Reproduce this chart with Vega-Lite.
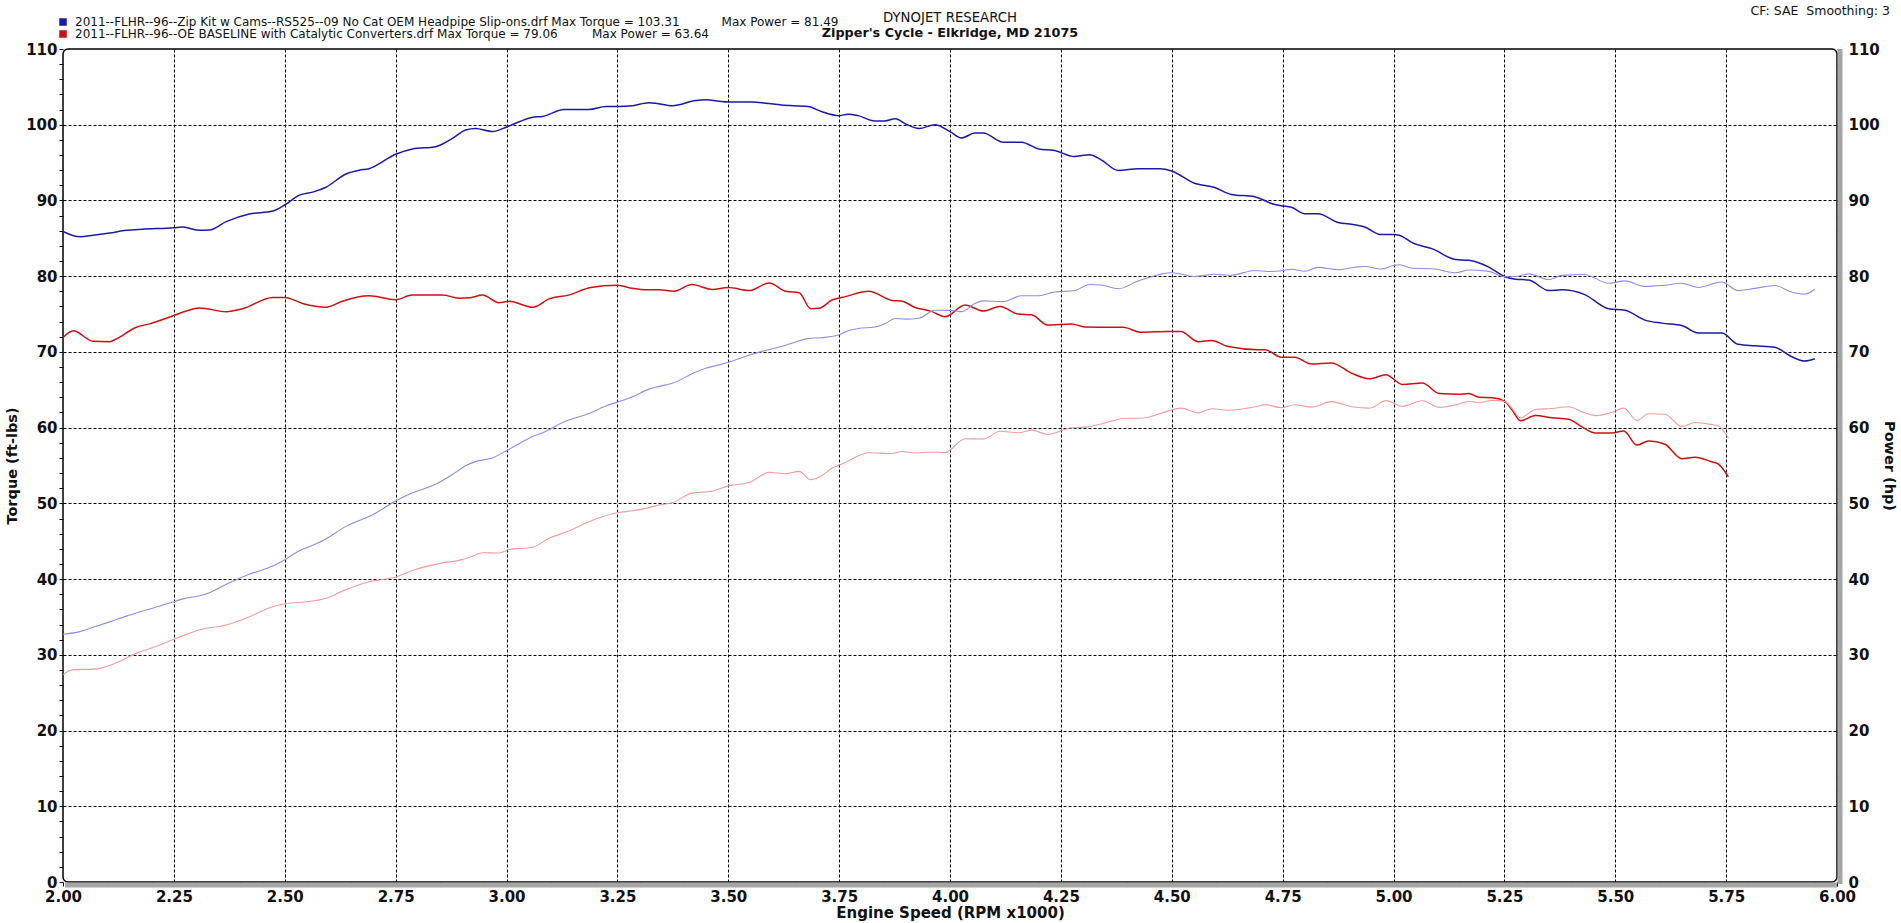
{
  "$schema": "https://vega.github.io/schema/vega-lite/v6.json",
  "width": 1774,
  "height": 833,
  "autosize": "none",
  "padding": {"left": 63, "top": 49, "right": 64, "bottom": 41},
  "background": "white",
  "config": {
    "font": "DejaVu Sans",
    "view": {"stroke": "black", "strokeWidth": 1.5, "cornerRadius": 5}
  },
  "title": {
    "text": "DYNOJET RESEARCH",
    "subtitle": "Zipper's Cycle - Elkridge, MD 21075",
    "anchor": "middle",
    "frame": "group",
    "font": "DejaVu Sans",
    "fontSize": 13.3,
    "fontWeight": "normal",
    "color": "#111111",
    "subtitleFont": "DejaVu Sans",
    "subtitleFontSize": 12.8,
    "subtitleFontWeight": "bold",
    "subtitleColor": "#111111",
    "subtitlePadding": 3,
    "offset": -35
  },
  "datasets": {
    "runs": [
      {"run":"A","rpm":2.000,"tq":85.9,"hp":32.71},
      {"run":"A","rpm":2.038,"tq":85.2,"hp":33.06},
      {"run":"A","rpm":2.068,"tq":85.4,"hp":33.63},
      {"run":"A","rpm":2.105,"tq":85.7,"hp":34.35},
      {"run":"A","rpm":2.143,"tq":86.05,"hp":35.11},
      {"run":"A","rpm":2.180,"tq":86.2,"hp":35.78},
      {"run":"A","rpm":2.250,"tq":86.4,"hp":37.01},
      {"run":"A","rpm":2.270,"tq":86.5,"hp":37.39},
      {"run":"A","rpm":2.308,"tq":86.05,"hp":37.81},
      {"run":"A","rpm":2.330,"tq":86.1,"hp":38.20},
      {"run":"A","rpm":2.368,"tq":87.2,"hp":39.32},
      {"run":"A","rpm":2.420,"tq":88.2,"hp":40.64},
      {"run":"A","rpm":2.473,"tq":88.6,"hp":41.72},
      {"run":"A","rpm":2.500,"tq":89.4,"hp":42.56},
      {"run":"A","rpm":2.533,"tq":90.7,"hp":43.74},
      {"run":"A","rpm":2.563,"tq":91.1,"hp":44.46},
      {"run":"A","rpm":2.593,"tq":91.75,"hp":45.30},
      {"run":"A","rpm":2.638,"tq":93.5,"hp":46.96},
      {"run":"A","rpm":2.668,"tq":94.0,"hp":47.75},
      {"run":"A","rpm":2.690,"tq":94.2,"hp":48.25},
      {"run":"A","rpm":2.750,"tq":96.1,"hp":50.32},
      {"run":"A","rpm":2.788,"tq":96.8,"hp":51.39},
      {"run":"A","rpm":2.840,"tq":97.1,"hp":52.51},
      {"run":"A","rpm":2.878,"tq":98.2,"hp":53.81},
      {"run":"A","rpm":2.908,"tq":99.3,"hp":54.98},
      {"run":"A","rpm":2.930,"tq":99.5,"hp":55.51},
      {"run":"A","rpm":2.968,"tq":99.1,"hp":56.00},
      {"run":"A","rpm":3.000,"tq":99.7,"hp":56.95},
      {"run":"A","rpm":3.029,"tq":100.4,"hp":57.90},
      {"run":"A","rpm":3.059,"tq":101.0,"hp":58.83},
      {"run":"A","rpm":3.081,"tq":101.1,"hp":59.31},
      {"run":"A","rpm":3.130,"tq":102.0,"hp":60.79},
      {"run":"A","rpm":3.186,"tq":102.0,"hp":61.88},
      {"run":"A","rpm":3.224,"tq":102.4,"hp":62.86},
      {"run":"A","rpm":3.250,"tq":102.4,"hp":63.37},
      {"run":"A","rpm":3.284,"tq":102.5,"hp":64.09},
      {"run":"A","rpm":3.320,"tq":102.9,"hp":65.05},
      {"run":"A","rpm":3.336,"tq":102.85,"hp":65.33},
      {"run":"A","rpm":3.374,"tq":102.5,"hp":65.85},
      {"run":"A","rpm":3.427,"tq":103.2,"hp":67.34},
      {"run":"A","rpm":3.449,"tq":103.3,"hp":67.84},
      {"run":"A","rpm":3.479,"tq":103.1,"hp":68.29},
      {"run":"A","rpm":3.500,"tq":103.0,"hp":68.64},
      {"run":"A","rpm":3.554,"tq":103.0,"hp":69.70},
      {"run":"A","rpm":3.584,"tq":102.85,"hp":70.19},
      {"run":"A","rpm":3.620,"tq":102.6,"hp":70.72},
      {"run":"A","rpm":3.680,"tq":102.4,"hp":71.75},
      {"run":"A","rpm":3.710,"tq":101.75,"hp":71.88},
      {"run":"A","rpm":3.750,"tq":101.2,"hp":72.26},
      {"run":"A","rpm":3.770,"tq":101.4,"hp":72.79},
      {"run":"A","rpm":3.793,"tq":101.2,"hp":73.09},
      {"run":"A","rpm":3.830,"tq":100.5,"hp":73.29},
      {"run":"A","rpm":3.853,"tq":100.5,"hp":73.73},
      {"run":"A","rpm":3.877,"tq":100.8,"hp":74.41},
      {"run":"A","rpm":3.900,"tq":100.1,"hp":74.33},
      {"run":"A","rpm":3.930,"tq":99.5,"hp":74.45},
      {"run":"A","rpm":3.966,"tq":100.0,"hp":75.51},
      {"run":"A","rpm":4.000,"tq":99.1,"hp":75.48},
      {"run":"A","rpm":4.026,"tq":98.25,"hp":75.32},
      {"run":"A","rpm":4.056,"tq":98.9,"hp":76.38},
      {"run":"A","rpm":4.075,"tq":98.9,"hp":76.74},
      {"run":"A","rpm":4.120,"tq":97.7,"hp":76.64},
      {"run":"A","rpm":4.161,"tq":97.7,"hp":77.41},
      {"run":"A","rpm":4.200,"tq":96.8,"hp":77.41},
      {"run":"A","rpm":4.236,"tq":96.6,"hp":77.91},
      {"run":"A","rpm":4.280,"tq":95.8,"hp":78.07},
      {"run":"A","rpm":4.315,"tq":96.05,"hp":78.91},
      {"run":"A","rpm":4.340,"tq":95.4,"hp":78.83},
      {"run":"A","rpm":4.380,"tq":93.95,"hp":78.35},
      {"run":"A","rpm":4.424,"tq":94.2,"hp":79.35},
      {"run":"A","rpm":4.473,"tq":94.2,"hp":80.23},
      {"run":"A","rpm":4.500,"tq":93.9,"hp":80.46},
      {"run":"A","rpm":4.550,"tq":92.3,"hp":79.96},
      {"run":"A","rpm":4.597,"tq":91.7,"hp":80.26},
      {"run":"A","rpm":4.634,"tq":90.8,"hp":80.12},
      {"run":"A","rpm":4.687,"tq":90.5,"hp":80.76},
      {"run":"A","rpm":4.725,"tq":89.6,"hp":80.61},
      {"run":"A","rpm":4.747,"tq":89.3,"hp":80.71},
      {"run":"A","rpm":4.770,"tq":89.1,"hp":80.92},
      {"run":"A","rpm":4.800,"tq":88.25,"hp":80.66},
      {"run":"A","rpm":4.830,"tq":88.25,"hp":81.16},
      {"run":"A","rpm":4.875,"tq":87.1,"hp":80.85},
      {"run":"A","rpm":4.912,"tq":86.8,"hp":81.18},
      {"run":"A","rpm":4.935,"tq":86.5,"hp":81.28},
      {"run":"A","rpm":4.972,"tq":85.5,"hp":80.94},
      {"run":"A","rpm":5.000,"tq":85.5,"hp":81.40},
      {"run":"A","rpm":5.013,"tq":85.4,"hp":81.51},
      {"run":"A","rpm":5.043,"tq":84.4,"hp":81.04},
      {"run":"A","rpm":5.088,"tq":83.6,"hp":80.99},
      {"run":"A","rpm":5.140,"tq":82.2,"hp":80.45},
      {"run":"A","rpm":5.170,"tq":82.1,"hp":80.82},
      {"run":"A","rpm":5.215,"tq":81.2,"hp":80.63},
      {"run":"A","rpm":5.250,"tq":79.95,"hp":79.92},
      {"run":"A","rpm":5.275,"tq":79.6,"hp":79.95},
      {"run":"A","rpm":5.305,"tq":79.5,"hp":80.30},
      {"run":"A","rpm":5.350,"tq":78.1,"hp":79.56},
      {"run":"A","rpm":5.380,"tq":78.2,"hp":80.11},
      {"run":"A","rpm":5.430,"tq":77.6,"hp":80.23},
      {"run":"A","rpm":5.485,"tq":75.7,"hp":79.06},
      {"run":"A","rpm":5.522,"tq":75.5,"hp":79.38},
      {"run":"A","rpm":5.567,"tq":74.2,"hp":78.65},
      {"run":"A","rpm":5.605,"tq":73.8,"hp":78.76},
      {"run":"A","rpm":5.650,"tq":73.5,"hp":79.07},
      {"run":"A","rpm":5.687,"tq":72.5,"hp":78.51},
      {"run":"A","rpm":5.740,"tq":72.5,"hp":79.24},
      {"run":"A","rpm":5.777,"tq":71.0,"hp":78.10},
      {"run":"A","rpm":5.815,"tq":70.8,"hp":78.39},
      {"run":"A","rpm":5.860,"tq":70.6,"hp":78.77},
      {"run":"A","rpm":5.897,"tq":69.4,"hp":77.92},
      {"run":"A","rpm":5.927,"tq":68.8,"hp":77.64},
      {"run":"A","rpm":5.950,"tq":69.1,"hp":78.28},
      {"run":"B","rpm":2.000,"tq":71.9,"hp":27.38},
      {"run":"B","rpm":2.023,"tq":72.8,"hp":28.04},
      {"run":"B","rpm":2.068,"tq":71.4,"hp":28.11},
      {"run":"B","rpm":2.105,"tq":71.35,"hp":28.60},
      {"run":"B","rpm":2.120,"tq":71.7,"hp":28.94},
      {"run":"B","rpm":2.165,"tq":73.25,"hp":30.19},
      {"run":"B","rpm":2.195,"tq":73.7,"hp":30.80},
      {"run":"B","rpm":2.250,"tq":74.8,"hp":32.05},
      {"run":"B","rpm":2.278,"tq":75.4,"hp":32.70},
      {"run":"B","rpm":2.308,"tq":75.8,"hp":33.31},
      {"run":"B","rpm":2.368,"tq":75.3,"hp":33.95},
      {"run":"B","rpm":2.405,"tq":75.7,"hp":34.66},
      {"run":"B","rpm":2.473,"tq":77.2,"hp":36.35},
      {"run":"B","rpm":2.500,"tq":77.2,"hp":36.75},
      {"run":"B","rpm":2.540,"tq":76.4,"hp":36.95},
      {"run":"B","rpm":2.593,"tq":75.9,"hp":37.47},
      {"run":"B","rpm":2.630,"tq":76.7,"hp":38.41},
      {"run":"B","rpm":2.690,"tq":77.4,"hp":39.64},
      {"run":"B","rpm":2.750,"tq":76.9,"hp":40.27},
      {"run":"B","rpm":2.788,"tq":77.5,"hp":41.14},
      {"run":"B","rpm":2.856,"tq":77.5,"hp":42.14},
      {"run":"B","rpm":2.893,"tq":77.1,"hp":42.47},
      {"run":"B","rpm":2.916,"tq":77.15,"hp":42.84},
      {"run":"B","rpm":2.946,"tq":77.5,"hp":43.47},
      {"run":"B","rpm":2.983,"tq":76.5,"hp":43.45},
      {"run":"B","rpm":3.006,"tq":76.7,"hp":43.90},
      {"run":"B","rpm":3.059,"tq":75.9,"hp":44.21},
      {"run":"B","rpm":3.096,"tq":77.0,"hp":45.39},
      {"run":"B","rpm":3.140,"tq":77.5,"hp":46.34},
      {"run":"B","rpm":3.190,"tq":78.5,"hp":47.68},
      {"run":"B","rpm":3.250,"tq":78.8,"hp":48.76},
      {"run":"B","rpm":3.284,"tq":78.4,"hp":49.02},
      {"run":"B","rpm":3.314,"tq":78.2,"hp":49.34},
      {"run":"B","rpm":3.344,"tq":78.2,"hp":49.79},
      {"run":"B","rpm":3.377,"tq":78.0,"hp":50.15},
      {"run":"B","rpm":3.418,"tq":78.9,"hp":51.35},
      {"run":"B","rpm":3.464,"tq":78.25,"hp":51.61},
      {"run":"B","rpm":3.500,"tq":78.5,"hp":52.31},
      {"run":"B","rpm":3.547,"tq":78.1,"hp":52.75},
      {"run":"B","rpm":3.592,"tq":79.1,"hp":54.10},
      {"run":"B","rpm":3.630,"tq":78.0,"hp":53.91},
      {"run":"B","rpm":3.660,"tq":77.8,"hp":54.22},
      {"run":"B","rpm":3.686,"tq":75.7,"hp":53.13},
      {"run":"B","rpm":3.705,"tq":75.75,"hp":53.44},
      {"run":"B","rpm":3.734,"tq":76.85,"hp":54.64},
      {"run":"B","rpm":3.764,"tq":77.3,"hp":55.40},
      {"run":"B","rpm":3.817,"tq":78.0,"hp":56.69},
      {"run":"B","rpm":3.869,"tq":76.8,"hp":56.58},
      {"run":"B","rpm":3.892,"tq":76.7,"hp":56.84},
      {"run":"B","rpm":3.920,"tq":75.9,"hp":56.65},
      {"run":"B","rpm":3.958,"tq":75.35,"hp":56.79},
      {"run":"B","rpm":3.989,"tq":74.65,"hp":56.70},
      {"run":"B","rpm":4.034,"tq":76.2,"hp":58.53},
      {"run":"B","rpm":4.075,"tq":75.4,"hp":58.50},
      {"run":"B","rpm":4.113,"tq":76.0,"hp":59.52},
      {"run":"B","rpm":4.154,"tq":75.0,"hp":59.32},
      {"run":"B","rpm":4.184,"tq":74.9,"hp":59.67},
      {"run":"B","rpm":4.220,"tq":73.55,"hp":59.10},
      {"run":"B","rpm":4.274,"tq":73.7,"hp":59.98},
      {"run":"B","rpm":4.304,"tq":73.3,"hp":60.07},
      {"run":"B","rpm":4.372,"tq":73.25,"hp":60.98},
      {"run":"B","rpm":4.390,"tq":73.25,"hp":61.23},
      {"run":"B","rpm":4.430,"tq":72.6,"hp":61.24},
      {"run":"B","rpm":4.490,"tq":72.7,"hp":62.15},
      {"run":"B","rpm":4.520,"tq":72.7,"hp":62.57},
      {"run":"B","rpm":4.560,"tq":71.35,"hp":61.95},
      {"run":"B","rpm":4.590,"tq":71.5,"hp":62.49},
      {"run":"B","rpm":4.627,"tq":70.7,"hp":62.29},
      {"run":"B","rpm":4.694,"tq":70.3,"hp":62.83},
      {"run":"B","rpm":4.710,"tq":70.3,"hp":63.04},
      {"run":"B","rpm":4.747,"tq":69.3,"hp":62.64},
      {"run":"B","rpm":4.777,"tq":69.3,"hp":63.03},
      {"run":"B","rpm":4.815,"tq":68.4,"hp":62.71},
      {"run":"B","rpm":4.860,"tq":68.55,"hp":63.43},
      {"run":"B","rpm":4.905,"tq":67.2,"hp":62.76},
      {"run":"B","rpm":4.946,"tq":66.45,"hp":62.58},
      {"run":"B","rpm":4.983,"tq":67.0,"hp":63.57},
      {"run":"B","rpm":5.020,"tq":65.7,"hp":62.80},
      {"run":"B","rpm":5.065,"tq":65.9,"hp":63.55},
      {"run":"B","rpm":5.103,"tq":64.5,"hp":62.67},
      {"run":"B","rpm":5.148,"tq":64.4,"hp":63.12},
      {"run":"B","rpm":5.170,"tq":64.5,"hp":63.49},
      {"run":"B","rpm":5.193,"tq":64.0,"hp":63.28},
      {"run":"B","rpm":5.223,"tq":63.95,"hp":63.60},
      {"run":"B","rpm":5.250,"tq":63.5,"hp":63.48},
      {"run":"B","rpm":5.268,"tq":62.3,"hp":62.49},
      {"run":"B","rpm":5.286,"tq":60.9,"hp":61.29},
      {"run":"B","rpm":5.320,"tq":61.6,"hp":62.40},
      {"run":"B","rpm":5.357,"tq":61.3,"hp":62.53},
      {"run":"B","rpm":5.395,"tq":61.1,"hp":62.76},
      {"run":"B","rpm":5.425,"tq":60.1,"hp":62.08},
      {"run":"B","rpm":5.455,"tq":59.3,"hp":61.59},
      {"run":"B","rpm":5.492,"tq":59.3,"hp":62.01},
      {"run":"B","rpm":5.519,"tq":59.55,"hp":62.58},
      {"run":"B","rpm":5.549,"tq":57.7,"hp":60.96},
      {"run":"B","rpm":5.575,"tq":58.25,"hp":61.83},
      {"run":"B","rpm":5.612,"tq":57.8,"hp":61.76},
      {"run":"B","rpm":5.650,"tq":55.9,"hp":60.14},
      {"run":"B","rpm":5.680,"tq":56.1,"hp":60.67},
      {"run":"B","rpm":5.717,"tq":55.5,"hp":60.41},
      {"run":"B","rpm":5.732,"tq":55.2,"hp":60.25},
      {"run":"B","rpm":5.755,"tq":53.5,"hp":58.62}
    ],
    "notes": [
      {"label": "CF: SAE\u00a0\u00a0Smoothing: 3"}
    ],
    "frame": [
      {"part": "shadow"}
    ]
  },
  "layer": [
    {
      "layer": [
        {
          "data": {"name": "frame"},
          "mark": {"type": "rule", "color": "#a6a6a6", "strokeWidth": 5, "yOffset": 3, "xOffset": 2},
          "encoding": {"x": {"datum": 2, "type": "quantitative"}, "x2": {"datum": 6}, "y": {"datum": 0, "type": "quantitative"}}
        },
        {
          "data": {"name": "frame"},
          "mark": {"type": "rule", "color": "#a6a6a6", "strokeWidth": 5, "xOffset": 3, "yOffset": 2},
          "encoding": {"x": {"datum": 6, "type": "quantitative"}, "y": {"datum": 0, "type": "quantitative"}, "y2": {"datum": 110}}
        },
        {
          "data": {"name": "runs"},
          "mark": {"type": "line", "strokeWidth": 1.5, "interpolate": "monotone"},
          "encoding": {
            "x": {
              "field": "rpm",
              "type": "quantitative",
              "scale": {"domain": [2, 6], "nice": false, "zero": false},
              "axis": {
                "title": "Engine Speed (RPM x1000)",
                "titleFont": "DejaVu Sans",
                "titleFontSize": 15,
                "titleFontWeight": "bold",
                "titleColor": "#111111",
                "titlePadding": 1,
                "tickCount": 80,
                "labelExpr": "round(datum.value*100) % 25 == 0 ? format(datum.value, '.2f') : ''",
                "labelFont": "DejaVu Sans",
                "labelFontSize": 15,
                "labelFontWeight": "bold",
                "labelColor": "#111111",
                "labelPadding": 3,
                "labelDx": 5,
                "labelFlush": false,
                "labelOverlap": false,
                "labelBound": false,
                "domain": false,
                "ticks": true,
                "tickColor": "#000000",
                "tickSize": 4,
                "grid": true,
                "gridColor": "#000000",
                "gridDash": [3, 2],
                "gridWidth": 1,
                "gridOpacity": {"condition": {"test": "round(datum.value*100) % 25 == 0 && datum.value > 2.01 && datum.value < 5.99", "value": 1}, "value": 0}
              }
            },
            "y": {
              "field": "tq",
              "type": "quantitative",
              "scale": {"domain": [0, 110], "nice": false},
              "axis": {
                "title": "Torque (ft-lbs)",
                "titleFont": "DejaVu Sans",
                "titleFontSize": 14.5,
                "titleFontWeight": "bold",
                "titleColor": "#111111",
                "titlePadding": 6,
                "tickCount": 55,
                "labelExpr": "datum.value % 10 == 0 ? format(datum.value, 'd') : ''",
                "labelFont": "DejaVu Sans",
                "labelFontSize": 15,
                "labelFontWeight": "bold",
                "labelColor": "#111111",
                "labelPadding": 2,
                "labelOverlap": false,
                "labelBound": false,
                "labelFlush": false,
                "domain": false,
                "tickColor": "#000000",
                "tickSize": 4,
                "grid": true,
                "gridColor": "#000000",
                "gridDash": [3, 2],
                "gridWidth": 1,
                "gridOpacity": {"condition": {"test": "datum.value % 10 == 0 && datum.value > 0 && datum.value < 110", "value": 1}, "value": 0}
              }
            },
            "color": {
              "field": "run",
              "type": "nominal",
              "scale": {"domain": ["A", "B"], "range": ["#1a1aa8", "#cf1010"]},
              "legend": {
                "orient": "none",
                "legendX": -6,
                "legendY": -33,
                "title": null,
                "padding": 0,
                "rowPadding": 0,
                "symbolType": "square",
                "symbolSize": 50,
                "symbolStrokeWidth": 0.5,
                "labelFont": "DejaVu Sans",
                "labelFontSize": 12,
                "labelColor": "#111111",
                "labelOffset": 6,
                "labelLimit": 0,
                "labelExpr": "datum.value == 'A' ? '2011--FLHR--96--Zip Kit w Cams--RS525--09 No Cat OEM Headpipe Slip-ons.drf Max Torque = 103.31\u00a0\u00a0\u00a0\u00a0\u00a0\u00a0\u00a0\u00a0\u00a0\u00a0\u00a0Max Power = 81.49' : '2011--FLHR--96--OE BASELINE with Catalytic Converters.drf Max Torque = 79.06\u00a0\u00a0\u00a0\u00a0\u00a0\u00a0\u00a0\u00a0\u00a0Max Power = 63.64'",
                "encode": {"symbols": {"update": {"fill": {"scale": "color", "field": "value"}, "stroke": {"value": "#333333"}}}}
              }
            }
          }
        },
        {
          "data": {"name": "notes"},
          "mark": {"type": "text", "align": "right", "baseline": "alphabetic", "dx": 53, "dy": -34, "font": "DejaVu Sans", "fontSize": 12.5, "color": "#111111"},
          "encoding": {"x": {"datum": 6, "type": "quantitative"}, "y": {"datum": 110, "type": "quantitative"}, "text": {"field": "label", "type": "nominal"}}
        }
      ]
    },
    {
      "data": {"name": "runs"},
      "mark": {"type": "line", "strokeWidth": 1.1, "interpolate": "monotone"},
      "encoding": {
        "x": {"field": "rpm", "type": "quantitative", "title": "Engine Speed (RPM x1000)"},
        "y": {
          "field": "hp",
          "type": "quantitative",
          "scale": {"domain": [0, 110], "nice": false},
          "axis": {
            "orient": "right",
            "title": "Power (hp)",
            "titleFont": "DejaVu Sans",
            "titleFontSize": 14.5,
            "titleFontWeight": "bold",
            "titleColor": "#111111",
            "titlePadding": 2,
            "tickCount": 55,
            "labelExpr": "datum.value % 10 == 0 ? format(datum.value, 'd') : ''",
            "labelFont": "DejaVu Sans",
            "labelFontSize": 15,
            "labelFontWeight": "bold",
            "labelColor": "#111111",
            "labelPadding": 7,
            "labelOverlap": false,
            "labelBound": false,
            "labelFlush": false,
            "domain": false,
            "tickColor": "#000000",
            "tickSize": 4,
            "grid": false
          }
        },
        "stroke": {
          "field": "run",
          "type": "nominal",
          "scale": {"domain": ["A", "B"], "range": ["#8d8de6", "#f29c9c"]},
          "legend": null
        }
      }
    }
  ],
  "resolve": {"scale": {"y": "independent"}}
}
